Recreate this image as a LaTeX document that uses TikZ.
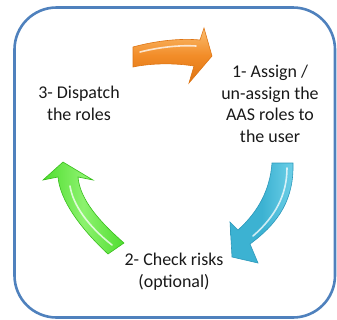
\documentclass[tikz,border=0pt]{standalone}
\usepackage{fontspec}
\setmainfont{Carlito}
\definecolor{frameblue}{RGB}{79,129,189}
\definecolor{orlight}{RGB}{251,190,112}
\definecolor{ormain}{RGB}{242,140,40}
\definecolor{ordark}{RGB}{222,116,18}
\definecolor{bllight}{RGB}{110,208,232}
\definecolor{blmain}{RGB}{60,178,210}
\definecolor{bldark}{RGB}{44,152,186}
\definecolor{grlight}{RGB}{140,242,110}
\definecolor{grmain}{RGB}{80,222,48}
\definecolor{grdark}{RGB}{56,190,28}
\begin{document}
\begin{tikzpicture}[x=1bp,y=-1bp,
  frame/.style={draw=frameblue,line width=2.6bp,rounded corners=42bp},
  label/.style={align=center,anchor=base,inner sep=0pt,font=\fontsize{18}{21.5}\selectfont,text=black!90},
  shine/.style={draw=white,opacity=.75,line width=1.6bp,line cap=round},
  orangearrow/.style={draw=ordark,line width=.6bp,top color=orlight,bottom color=ordark,middle color=ormain},
  bluearrow/.style={draw=bldark,line width=.6bp,left color=blmain,right color=bllight,middle color=blmain},
  greenarrow/.style={draw=grdark,line width=.6bp,left color=grmain,right color=grmain,middle color=grlight}]
\useasboundingbox (0,0) rectangle (337,320);
\draw[frame] (14.5,7.5) rectangle (335,317.5);
% orange arrow (3 -> 1)
\path[orangearrow] (133,47) .. controls (155,41) and (180,38) .. (200,40) -- (204,28) -- (212,56) -- (189,83) -- (194,66) .. controls (175,63) and (152,63) .. (133,67) -- cycle;
\draw[shine] (140,52) .. controls (160,47) and (180,45) .. (196,46);
% blue arrow (1 -> 2)
\path[bluearrow] (272,163) -- (293,163) .. controls (294,198) and (280,222) .. (250,244) -- (258,263) -- (232,257) -- (230,222) -- (238,230) .. controls (258,212) and (270,190) .. (272,163) -- cycle;
\draw[shine] (287,168) .. controls (287,195) and (275,217) .. (253,236);
% green arrow (2 -> 3)
\path[greenarrow] (108,254) -- (124,243) .. controls (100,222) and (80,200) .. (78,177) -- (93,180) -- (63,162) -- (43,180) -- (58,177) .. controls (60,200) and (80,228) .. (108,254) -- cycle;
\draw[shine] (70,186) .. controls (73,205) and (88,226) .. (112,245);
% labels
\node[label] (assign) at (270,142) {1- Assign /\\un-assign the\\AAS roles to\\the user};
\node[label] (check) at (174,287) {2- Check risks\\(optional)};
\node[label] (dispatch) at (79,120) {3- Dispatch\\the roles};
\end{tikzpicture}
\end{document}
